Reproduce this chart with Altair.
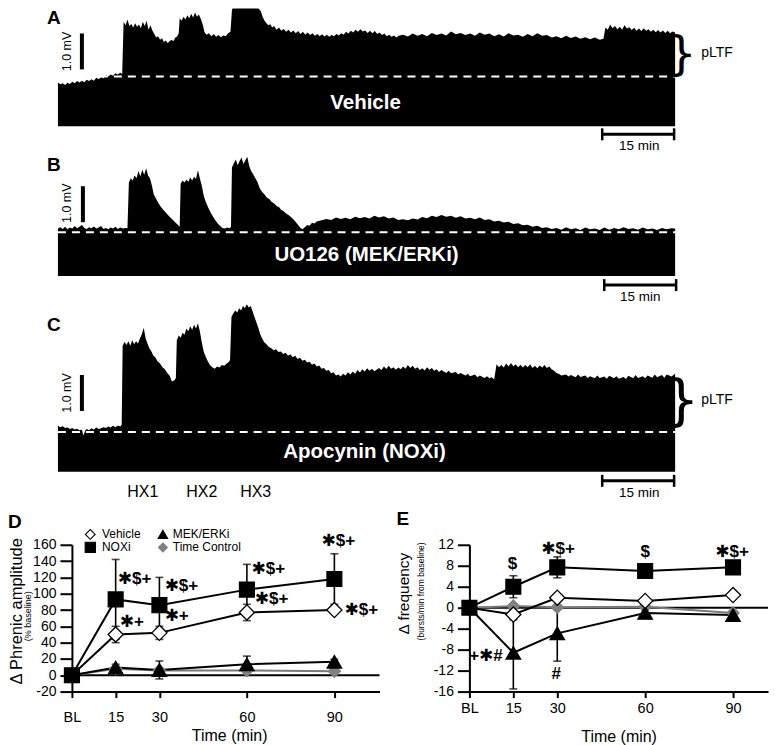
import altair as alt
import pandas as pd

FONT = "Liberation Sans, DejaVu Sans, Arial"

# ---------------- data: integrated phrenic traces ----------------
# (time from start of record in min, amplitude in mV relative to pre-hypoxia baseline)
A_TRACE = [(0, -0.17), (0.5, -0.22), (1, -0.19), (1.5, -0.24), (2, -0.18), (2.5, -0.21), (3, -0.15), (3.5, -0.19),
           (4, -0.13), (4.5, -0.17), (5, -0.12), (5.5, -0.16), (6, -0.09), (6.5, -0.13), (7, -0.08), (7.5, -0.12),
           (8, -0.04), (8.5, -0.08), (9, -0.02), (9.5, -0.05), (10, 0.03), (10.5, 0.0), (11, 0.05), (11.5, 0.02),
           (12, 0.09), (12.5, 0.05), (13, 0.10), (13.4, 0.07),
           (13.7, 1.52), (14.1, 1.42), (14.5, 1.58), (14.9, 1.40), (15.3, 1.46), (15.7, 1.36), (16.1, 1.48),
           (16.5, 1.38), (16.9, 1.44), (17.3, 1.34), (17.7, 1.52), (18.1, 1.40), (18.5, 1.55), (18.9, 1.30),
           (19.3, 1.42), (19.7, 1.28), (20.1, 1.18), (20.5, 1.08), (20.9, 1.12), (21.3, 1.02), (21.7, 1.06),
           (22.1, 0.96), (22.5, 1.00), (22.9, 0.93), (23.3, 0.98), (23.7, 1.02), (24.1, 0.98), (24.5, 1.08),
           (24.9, 1.12), (25.2, 1.20),
           (25.4, 1.62), (25.8, 1.55), (26.2, 1.66), (26.6, 1.58), (27.0, 1.70), (27.4, 1.62), (27.8, 1.74),
           (28.2, 1.64), (28.6, 1.78), (29.0, 1.66), (29.4, 1.72), (29.8, 1.60), (30.2, 1.44), (30.6, 1.22),
           (31.0, 1.16), (31.5, 1.20), (32.0, 1.12), (32.5, 1.18), (33.0, 1.10), (33.5, 1.15), (34.0, 1.09),
           (34.5, 1.14), (35.0, 1.12), (35.5, 1.20), (36.0, 1.24),
           (36.3, 1.85), (36.7, 1.96), (37.1, 1.88), (37.5, 2.00), (37.9, 1.90), (38.3, 2.04), (38.7, 1.94),
           (39.1, 2.05), (39.5, 1.92), (39.9, 2.02), (40.3, 1.95), (40.7, 2.04), (41.1, 1.93), (41.5, 1.98),
           (41.9, 1.88), (42.3, 1.82), (42.7, 1.66), (43.1, 1.55), (43.5, 1.48), (43.9, 1.42), (44.3, 1.45),
           (44.7, 1.36), (45.1, 1.40), (45.6, 1.30), (46.1, 1.36), (46.6, 1.27), (47.1, 1.32), (47.6, 1.24),
           (48.1, 1.30), (48.6, 1.22), (49.1, 1.28), (49.6, 1.20), (50.1, 1.26), (50.6, 1.18), (51.1, 1.24),
           (51.6, 1.16), (52.1, 1.22), (52.6, 1.15), (53.1, 1.20), (53.6, 1.13), (54.1, 1.18), (54.6, 1.12),
           (55.1, 1.17), (55.6, 1.11), (56.1, 1.16), (56.6, 1.10), (57.1, 1.15), (57.6, 1.12), (58.1, 1.18),
           (58.6, 1.14), (59.1, 1.20), (59.6, 1.16), (60.1, 1.24), (60.6, 1.19), (61.1, 1.27), (61.6, 1.22),
           (62.1, 1.30), (62.6, 1.24), (63.1, 1.31), (63.6, 1.25), (64.1, 1.28), (64.6, 1.21), (65.1, 1.27),
           (65.6, 1.20), (66.1, 1.26), (66.6, 1.18), (67.1, 1.22), (67.6, 1.15), (68.1, 1.19), (68.6, 1.12),
           (69.1, 1.16), (69.6, 1.10), (70.1, 1.14), (70.6, 1.08), (71.1, 1.13),
           (72, 1.16), (73, 1.11), (74, 1.19), (75, 1.13), (76, 1.18), (77, 1.12), (78, 1.21), (79, 1.15),
           (80, 1.19), (81, 1.14), (82, 1.25), (83, 1.17), (84, 1.21), (85, 1.15), (86, 1.19), (87, 1.13),
           (88, 1.22), (89, 1.16), (90, 1.19), (91, 1.12), (92, 1.17), (93, 1.11), (94, 1.20), (95, 1.14),
           (96, 1.16), (97, 1.10), (98, 1.18), (99, 1.12), (100, 1.20), (101, 1.13), (102, 1.15), (103, 1.08),
           (104, 1.12), (105, 1.06), (106, 1.13), (107, 1.07), (108, 1.11), (109, 1.05), (110, 1.09), (111, 1.03),
           (112, 1.08), (113, 1.02), (113.8, 1.05),
           (114.2, 1.36), (114.7, 1.30), (115.2, 1.44), (115.7, 1.34), (116.2, 1.40), (116.7, 1.31), (117.2, 1.38),
           (117.7, 1.30), (118.2, 1.42), (118.7, 1.33), (119.2, 1.37), (119.7, 1.29), (120.2, 1.35), (120.7, 1.27),
           (121.2, 1.33), (121.7, 1.26), (122.2, 1.34), (122.7, 1.27), (123.2, 1.31), (123.7, 1.24), (124.2, 1.30),
           (124.7, 1.23), (125.2, 1.29), (125.7, 1.22), (126.2, 1.28), (126.7, 1.21), (127.2, 1.27), (127.7, 1.20),
           (128.2, 1.25), (128.75, 1.22)]

B_TRACE = [(0, 0.10), (0.5, 0.14), (1, 0.09), (1.5, 0.15), (2, 0.08), (2.5, 0.13), (3, 0.10), (3.5, 0.17),
           (4, 0.11), (4.5, 0.15), (5, 0.20), (5.5, 0.12), (6, 0.09), (6.5, 0.14), (7, 0.11), (7.5, 0.16),
           (8, 0.10), (8.5, 0.13), (9, 0.17), (9.5, 0.09), (10, 0.12), (10.5, 0.08), (11, 0.13), (11.5, 0.10),
           (12, 0.15), (12.5, 0.09), (13, 0.13), (13.5, 0.10), (14, 0.12), (14.5, 0.11),
           (14.8, 1.38), (15.2, 1.50), (15.6, 1.44), (16.0, 1.58), (16.4, 1.50), (16.8, 1.70), (17.2, 1.55),
           (17.6, 1.74), (18.0, 1.60), (18.4, 1.78), (18.8, 1.58), (19.2, 1.50), (19.6, 1.30), (20.0, 1.05),
           (20.5, 0.92), (21.0, 0.80), (21.5, 0.70), (22.0, 0.62), (22.5, 0.55), (23.0, 0.47), (23.5, 0.40),
           (24.0, 0.34), (24.5, 0.27), (25.0, 0.21), (25.4, 0.15),
           (25.6, 1.35), (26.0, 1.44), (26.4, 1.38), (26.8, 1.46), (27.2, 1.40), (27.6, 1.52), (28.0, 1.44),
           (28.4, 1.54), (28.8, 1.48), (29.2, 1.72), (29.6, 1.50), (30.0, 1.30), (30.4, 1.02), (30.8, 0.86),
           (31.3, 0.70), (31.8, 0.56), (32.3, 0.44), (32.8, 0.34), (33.3, 0.25), (33.8, 0.18), (34.3, 0.12),
           (34.8, 0.10), (35.3, 0.13), (35.8, 0.11), (36.1, 0.15),
           (36.3, 1.80), (36.7, 1.92), (37.1, 2.02), (37.5, 1.86), (37.9, 1.98), (38.3, 2.08), (38.7, 1.90),
           (39.1, 2.00), (39.5, 2.10), (39.9, 1.84), (40.3, 1.70), (40.7, 1.62), (41.1, 1.52), (41.6, 1.40),
           (42.1, 1.22), (42.6, 1.12), (43.1, 1.05), (43.6, 0.96), (44.1, 0.92), (44.6, 0.84), (45.1, 0.80),
           (45.6, 0.73), (46.1, 0.70), (46.6, 0.62), (47.1, 0.58), (47.6, 0.52), (48.1, 0.48), (48.6, 0.42),
           (49.1, 0.36), (49.6, 0.28), (50.1, 0.20), (50.6, 0.12), (51.0, 0.08),
           (51.5, 0.14), (52, 0.20), (52.5, 0.18), (53, 0.26), (53.5, 0.24), (54, 0.30), (55, 0.33), (56, 0.37),
           (57, 0.34), (58, 0.41), (59, 0.37), (60, 0.40), (61, 0.36), (62, 0.43), (63, 0.39), (64, 0.42),
           (65, 0.38), (66, 0.46), (67, 0.41), (68, 0.44), (69, 0.38), (70, 0.41), (71, 0.34), (72, 0.36),
           (73, 0.33), (74, 0.38), (75, 0.35), (76, 0.42), (77, 0.39), (78, 0.46), (79, 0.42), (80, 0.48),
           (81, 0.43), (82, 0.46), (83, 0.40), (84, 0.44), (85, 0.38), (86, 0.40), (87, 0.36), (88, 0.41),
           (89, 0.34), (90, 0.36), (91, 0.30), (92, 0.32), (93, 0.27), (94, 0.29), (95, 0.23), (96, 0.25),
           (97, 0.19), (98, 0.21), (99, 0.15), (100, 0.18), (101, 0.12), (102, 0.14), (103, 0.09), (104, 0.12),
           (105, 0.07), (106, 0.14), (107, 0.08), (108, 0.11), (109, 0.06), (110, 0.13), (111, 0.08), (112, 0.10),
           (113, 0.06), (114, 0.13), (115, 0.07), (116, 0.12), (117, 0.08), (118, 0.14), (119, 0.09), (120, 0.11),
           (121, 0.07), (122, 0.13), (123, 0.08), (124, 0.10), (125, 0.06), (126, 0.12), (127, 0.08), (128, 0.11),
           (128.75, 0.10)]

C_TRACE = [(0, 0.17), (0.5, 0.13), (1, 0.16), (1.5, 0.11), (2, 0.12), (2.5, 0.08), (3, 0.11), (3.5, 0.07),
           (4, 0.09), (4.5, 0.05), (5, 0.06), (5.3, -0.10), (5.7, 0.04), (6, 0.08), (6.5, 0.05), (7, 0.10),
           (7.5, 0.07), (8, 0.12), (8.5, 0.08), (9, 0.10), (9.5, 0.13), (10, 0.11), (10.5, 0.15), (11, 0.12),
           (11.5, 0.17), (12, 0.13), (12.5, 0.18), (13, 0.15), (13.3, 0.20),
           (13.5, 2.40), (13.9, 2.50), (14.3, 2.42), (14.7, 2.52), (15.1, 2.40), (15.5, 2.55), (15.9, 2.44),
           (16.3, 2.52), (16.7, 2.46), (17.1, 2.60), (17.5, 2.72), (17.9, 2.90), (18.3, 2.60), (18.7, 2.45),
           (19.1, 2.32), (19.5, 2.24), (19.9, 2.12), (20.3, 2.08), (20.8, 1.96), (21.3, 1.90), (21.8, 1.80),
           (22.3, 1.74), (22.8, 1.64), (23.3, 1.56), (23.8, 1.40), (24.3, 1.44), (24.6, 1.50),
           (24.8, 2.55), (25.2, 2.68), (25.6, 2.62), (26.0, 2.76), (26.4, 2.70), (26.8, 2.88), (27.2, 2.80),
           (27.6, 2.94), (28.0, 2.84), (28.4, 2.98), (28.8, 2.88), (29.2, 3.02), (29.6, 2.80), (30.0, 2.50),
           (30.4, 2.24), (30.8, 2.10), (31.2, 1.98), (31.7, 1.86), (32.2, 1.80), (32.7, 1.76), (33.2, 1.82),
           (33.7, 1.79), (34.2, 1.86), (34.7, 1.84), (35.2, 1.90), (35.6, 1.94), (35.9, 2.00),
           (36.2, 3.20), (36.6, 3.30), (37.0, 3.38), (37.4, 3.32), (37.8, 3.44), (38.2, 3.38), (38.6, 3.50),
           (39.0, 3.44), (39.4, 3.55), (39.8, 3.46), (40.2, 3.50), (40.6, 3.36), (41.0, 3.20), (41.4, 3.05),
           (41.8, 2.90), (42.2, 2.72), (42.6, 2.60), (43.0, 2.50), (43.5, 2.44), (44.0, 2.36), (44.5, 2.33),
           (45.0, 2.27), (45.5, 2.30), (46.0, 2.22), (46.5, 2.24), (47.0, 2.17), (47.5, 2.20), (48.0, 2.12),
           (48.5, 2.16), (49.0, 2.08), (49.5, 2.12), (50.0, 2.03), (50.5, 2.06), (51.0, 1.98), (51.5, 2.01),
           (52.0, 1.93), (52.5, 1.95), (53.0, 1.87), (53.5, 1.90), (54.0, 1.82), (54.5, 1.85), (55.0, 1.76),
           (55.5, 1.78), (56.0, 1.70), (56.5, 1.72), (57.0, 1.63), (57.5, 1.66), (58.0, 1.57), (58.5, 1.60),
           (59.0, 1.54), (59.5, 1.62), (60.0, 1.57), (60.5, 1.66), (61.0, 1.60), (61.5, 1.68), (62.0, 1.62),
           (62.5, 1.72), (63.0, 1.65), (63.5, 1.74), (64.0, 1.68), (64.5, 1.77), (65.0, 1.70), (65.5, 1.76),
           (66.0, 1.69), (67, 1.78), (67.5, 1.72), (68, 1.82), (68.5, 1.75), (69, 1.84), (69.5, 1.76), (70, 1.80),
           (70.5, 1.73), (71, 1.79), (71.5, 1.74), (72, 1.82), (72.5, 1.76), (73, 1.86), (73.5, 1.78), (74, 1.84),
           (74.5, 1.76), (75, 1.80), (75.5, 1.72), (76, 1.77), (76.5, 1.71), (77, 1.80), (77.5, 1.73), (78, 1.78),
           (78.5, 1.70), (79, 1.74), (79.5, 1.67), (80, 1.72), (81, 1.64), (81.5, 1.70), (82, 1.63), (83, 1.67),
           (83.5, 1.60), (84, 1.64), (85, 1.57), (85.5, 1.62), (86, 1.55), (87, 1.60), (87.5, 1.52), (88, 1.57),
           (89, 1.50), (89.5, 1.55), (90, 1.49), (90.5, 1.52), (91, 1.46),
           (91.5, 1.88), (92, 1.80), (92.5, 1.86), (93, 1.79), (93.5, 1.90), (94, 1.82), (94.5, 1.92), (95, 1.83),
           (95.5, 1.88), (96, 1.80), (96.5, 1.87), (97, 1.79), (97.5, 1.86), (98, 1.80), (98.5, 1.88), (99, 1.78),
           (99.5, 1.84), (100, 1.77), (100.5, 1.85), (101, 1.79), (101.5, 1.86), (102, 1.78), (102.5, 1.82),
           (103, 1.74), (103.5, 1.70), (104, 1.64), (104.5, 1.62), (105, 1.57), (106, 1.60), (106.5, 1.54),
           (107, 1.58), (108, 1.52), (108.5, 1.60), (109, 1.53), (110, 1.57), (110.5, 1.50), (111, 1.55),
           (112, 1.49), (112.5, 1.57), (113, 1.50), (114, 1.54), (114.5, 1.48), (115, 1.56), (116, 1.49),
           (116.5, 1.55), (117, 1.48), (118, 1.53), (118.5, 1.47), (119, 1.56), (120, 1.49), (120.5, 1.58),
           (121, 1.50), (122, 1.55), (122.5, 1.49), (123, 1.57), (124, 1.51), (124.5, 1.60), (125, 1.52),
           (126, 1.58), (126.5, 1.51), (127, 1.60), (128, 1.54), (128.75, 1.62)]

TRACE_FLOOR = {"A": -1.39, "B": -1.22, "C": -1.11}
TRACE_END = 128.75
DRUG_LABELS = ["Vehicle", "UO126 (MEK/ERKi)", "Apocynin (NOXi)"]
HX_LABELS = ["HX1", "HX2", "HX3"]
HX_TIMES = [17.7, 30.0, 41.25]

# ---------------- data: group summaries ----------------
TIMES = [0, 15, 30, 60, 90]
TIME_TICKS = ["BL", "15", "30", "60", "90"]
SERIES = ["Time Control", "MEK/ERKi", "Vehicle", "NOXi"]

AMP_MEAN = {"Vehicle": [0, 50, 52, 77, 80],
            "NOXi": [0, 93, 86, 105, 118],
            "MEK/ERKi": [0, 9.5, 6.5, 13.5, 16.5],
            "Time Control": [0, 8, 6, 6, 5]}
AMP_SEM = {"Vehicle": [0, 10, 8, 10, 3],
           "NOXi": [0, 49, 34, 31, 31],
           "MEK/ERKi": [0, 4, 11, 10, 3],
           "Time Control": [0, 2, 2, 2, 2]}

FREQ_MEAN = {"Vehicle": [0, -1.3, 1.9, 1.3, 2.4],
             "NOXi": [0, 4.0, 7.7, 7.0, 7.7],
             "MEK/ERKi": [0, -8.6, -4.9, -1.0, -1.4],
             "Time Control": [0, 0.3, 0.1, 0.2, -1.0]}
FREQ_SEM = {"Vehicle": [0, 1.0, 0.5, 0.5, 0.3],
            "NOXi": [0, 2.1, 2.0, 1.0, 0.6],
            "MEK/ERKi": [0, 6.9, 5.3, 0.6, 0.5],
            "Time Control": [0, 0.4, 0.4, 0.4, 0.4]}

AMP_SIG = [(15.75, 117.6, "✱$+"), (16.4, 64.9, "✱+"), (31.8, 109.0, "✱$+"), (31.8, 72.3, "✱+"),
           (61.6, 129.8, "✱$+"), (62.7, 93.1, "✱$+"), (85.6, 164.1, "✱$+"), (93.5, 79.6, "✱$+")]
FREQ_SIG = [(14.7, 8.3, "$", "center"), (30.3, 11.2, "✱$+", "center"), (60.0, 10.6, "$", "center"),
            (89.7, 10.6, "✱$+", "center"), (11.4, -9.15, "+✱#", "right"), (29.65, -12.6, "#", "center")]

# ---------------- layout ----------------
TOTAL_W = 761
TRACE_XDOM = [(8 - 58) / 4.8, (769 - 58) / 4.8]
D_W, E_W = 308, 299
D_XMAX, E_XMAX = D_W / 2.92, E_W / 2.933
ROW_H = {"A": 144, "B": 148, "C": 245, "DE": 147}
YDOM = {"A": [-76 / 36, 68 / 36], "B": [-68 / 36, 80 / 36], "C": [-113 / 36, 132 / 36]}

STYLE = {
    "Time Control": dict(line="#7a7a7a", shape="diamond", fill="#808080", stroke="#808080", size=150, lsize=80),
    "MEK/ERKi": dict(line="black", shape="triangle-up", fill="black", stroke="black", size=210, lsize=90),
    "Vehicle": dict(line="black", shape="diamond", fill="white", stroke="black", size=230, lsize=95),
    "NOXi": dict(line="black", shape="square", fill="black", stroke="black", size=220, lsize=105),
}


def text_layer(t, v, s, xs, ys, xa=None, ya=None, **kw):
    df = pd.DataFrame({"t": [t], "v": [v], "s": [s]})
    kw.setdefault("font", FONT)
    kw.setdefault("color", "black")
    return alt.Chart(df).mark_text(**kw).encode(
        x=alt.X("t:Q", scale=xs, axis=xa), y=alt.Y("v:Q", scale=ys, axis=ya), text="s:N")


def trace_panel(key, trace, drug, lay):
    xs = alt.Scale(domain=TRACE_XDOM, nice=False, zero=False)
    ys = alt.Scale(domain=YDOM[key], nice=False, zero=False)
    df = pd.DataFrame(trace, columns=["t", "v"])
    df["f"] = TRACE_FLOOR[key]
    layers = [alt.Chart(df).mark_area(color="black", orient="vertical", interpolate="linear", clip=True).encode(
        x=alt.X("t:Q", scale=xs, axis=None), y=alt.Y("v:Q", scale=ys, axis=None), y2="f:Q")]
    dash = pd.DataFrame({"t1": [0.0], "t2": [TRACE_END], "v": [0.0]})
    layers.append(alt.Chart(dash).mark_rule(color="white", strokeWidth=2, strokeDash=[8, 6]).encode(
        x=alt.X("t1:Q", scale=xs, axis=None), x2="t2:Q", y=alt.Y("v:Q", scale=ys, axis=None)))
    rules = pd.DataFrame(lay["rules"], columns=["t1", "t2", "v1", "v2", "w"])
    layers.append(alt.Chart(rules).mark_rule(color="black").encode(
        x=alt.X("t1:Q", scale=xs, axis=None), x2="t2:Q",
        y=alt.Y("v1:Q", scale=ys, axis=None), y2="v2:Q",
        strokeWidth=alt.StrokeWidth("w:Q", scale=None, legend=None)))
    layers.append(text_layer(lay["label"][0], lay["label"][1], key, xs, ys, fontSize=19,
                             fontWeight="bold", align="left"))
    layers.append(text_layer(lay["mv"][0], lay["mv"][1], "1.0 mV", xs, ys, fontSize=12.5, angle=270))
    layers.append(text_layer(lay["drug"][0], lay["drug"][1], drug, xs, ys, fontSize=20.5,
                             fontWeight="bold", color="white"))
    layers.append(text_layer(lay["min"][0], lay["min"][1], "15 min", xs, ys, fontSize=13.5))
    if "brace" in lay:
        b = lay["brace"]
        layers.append(text_layer(b[0], b[1], "}", xs, ys, fontSize=b[2], font="DejaVu Sans"))
        layers.append(text_layer(lay["pltf"][0], lay["pltf"][1], "pLTF", xs, ys, fontSize=14, align="left"))
    if "hx" in lay:
        for t, s in zip(HX_TIMES, HX_LABELS):
            layers.append(text_layer(t, lay["hx"], s, xs, ys, fontSize=16))
    return alt.layer(*layers).properties(width=TOTAL_W, height=ROW_H[key])


def scale_rules(bar_t, bar_v, t0, t1, v, cap):
    return [(bar_t, bar_t, bar_v[0], bar_v[1], 4),
            (t0, t1, v, v, 3),
            (t0, t0, v + cap, v - cap, 2.5),
            (t1, t1, v + cap, v - cap, 2.5)]


LAY_A = dict(rules=scale_rules(5.0, (0.194, 1.194), 113.54, 128.54, -1.611, 0.167),
             label=(-2.29, 1.625), mv=(1.875, 0.694), drug=(64.17, -0.75), min=(121.25, -1.944),
             brace=(130.1, 0.60, 47), pltf=(134.2, 0.64))
LAY_B = dict(rules=scale_rules(5.21, (0.278, 1.278), 113.96, 128.96, -1.472, 0.167),
             label=(-2.29, 1.861), mv=(1.875, 0.806), drug=(64.375, -0.639), min=(121.46, -1.806))
LAY_C = dict(rules=scale_rules(5.0, (0.583, 1.583), 113.54, 128.54, -1.361, 0.167),
             label=(-2.29, 2.972), mv=(1.875, 1.083), drug=(63.96, -0.556), min=(121.25, -1.694),
             brace=(130.1, 0.83, 56), pltf=(134.2, 0.89), hx=-1.667)

trace_a = trace_panel("A", A_TRACE, DRUG_LABELS[0], LAY_A)
trace_b = trace_panel("B", B_TRACE, DRUG_LABELS[1], LAY_B)
trace_c = trace_panel("C", C_TRACE, DRUG_LABELS[2], LAY_C)


def stat_panel(means, sems, xmax, ydom, yticks, width, xlabpad, sig, extra_texts, legend=None):
    xs = alt.Scale(domain=[0, xmax], nice=False, zero=False)
    ys = alt.Scale(domain=ydom, nice=False, zero=False)
    label_map = " : ".join(f"datum.value == {t} ? '{s}'" for t, s in zip(TIMES, TIME_TICKS)) + " : ''"
    xa = alt.Axis(values=TIMES, labelExpr=label_map, title=None, grid=False, domainColor="black",
                  domainWidth=2, tickColor="black", tickWidth=2, tickSize=6, labelFont=FONT,
                  labelFontSize=14.5, labelColor="black", labelPadding=xlabpad, labelFlush=False,
                  labelOverlap=False)
    ya = alt.Axis(values=yticks, labelExpr="'' + datum.value", title=None, grid=False,
                  domainColor="black", domainWidth=2, tickColor="black", tickWidth=2, tickSize=12,
                  labelFont=FONT, labelFontSize=14, labelColor="black", labelPadding=4,
                  labelFlush=False, labelOverlap=False)

    def XY(yf="v"):
        return dict(x=alt.X("t:Q", scale=xs, axis=xa), y=alt.Y(f"{yf}:Q", scale=ys, axis=ya))

    zero = pd.DataFrame({"t": [0.0], "t2": [xmax], "v": [0.0]})
    layers = [alt.Chart(zero).mark_rule(color="black", strokeWidth=2).encode(**XY(), x2="t2:Q")]

    frames = {}
    for s in SERIES:
        df = pd.DataFrame({"t": TIMES, "v": means[s], "e": sems[s]})
        df["lo"] = df["v"] - df["e"]
        df["hi"] = df["v"] + df["e"]
        frames[s] = df
    for s in SERIES:
        st = STYLE[s]
        layers.append(alt.Chart(frames[s]).mark_line(color=st["line"], strokeWidth=2).encode(**XY()))
    for s in SERIES:
        st = STYLE[s]
        df = frames[s][frames[s]["e"] > 0]
        layers.append(alt.Chart(df).mark_rule(color=st["line"], strokeWidth=1.6).encode(
            **XY("lo"), y2="hi:Q"))
        caps = pd.concat([df[["t", "lo"]].rename(columns={"lo": "c"}),
                          df[["t", "hi"]].rename(columns={"hi": "c"})])
        layers.append(alt.Chart(caps).mark_tick(color=st["line"], orient="horizontal", size=8,
                                                thickness=1.6).encode(**XY("c")))
    for s in SERIES:
        st = STYLE[s]
        layers.append(alt.Chart(frames[s]).mark_point(
            shape=st["shape"], filled=True, fill=st["fill"], stroke=st["stroke"], strokeWidth=1.3,
            size=st["size"], opacity=1).encode(**XY()))
    if legend:
        for s, (tm, tt, v) in legend.items():
            st = STYLE[s]
            ldf = pd.DataFrame({"t": [tm], "v": [v]})
            layers.append(alt.Chart(ldf).mark_point(
                shape=st["shape"], filled=True, fill=st["fill"], stroke=st["stroke"], strokeWidth=1.1,
                size=st["lsize"], opacity=1).encode(**XY()))
            layers.append(text_layer(tt, v, s, xs, ys, xa, ya, fontSize=12, align="left"))
    for item in sig:
        t, v, s = item[0], item[1], item[2]
        align = item[3] if len(item) > 3 else "left"
        layers.append(text_layer(t, v, s, xs, ys, xa, ya, fontSize=17, fontWeight="bold", align=align))
    for t, v, s, kw in extra_texts:
        layers.append(text_layer(t, v, s, xs, ys, xa, ya, **kw))
    return alt.layer(*layers).properties(width=width, height=ROW_H["DE"])


AMP_LEGEND = {"Vehicle": (6.3, 10.3, 172.7), "NOXi": (6.3, 10.3, 156.8),
              "MEK/ERKi": (31.2, 34.6, 172.7), "Time Control": (31.2, 34.6, 156.8)}

panel_d = stat_panel(
    AMP_MEAN, AMP_SEM, D_XMAX, [-20, 160], list(range(-20, 161, 20)), D_W, 13, AMP_SIG,
    [(-21.9, 188.0, "D", dict(fontSize=19, fontWeight="bold", align="left")),
     (-19.0, 78.4, "Δ Phrenic amplitude", dict(fontSize=16.5, angle=270)),
     (-15.2, 72.3, "(% baseline)", dict(fontSize=9, angle=270)),
     (54.1, -74.1, "Time (min)", dict(fontSize=16))],
    legend=AMP_LEGEND)

panel_e = stat_panel(
    FREQ_MEAN, FREQ_SEM, E_XMAX, [-16, 12], list(range(-16, 13, 4)), E_W, 4, FREQ_SIG,
    [(-24.9, 16.9, "E", dict(fontSize=19, fontWeight="bold", align="left")),
     (-22.2, 2.7, "Δ frequency", dict(fontSize=15.5, angle=270)),
     (-16.4, 3.1, "(bursts/min from baseline)", dict(fontSize=8.5, angle=270)),
     (51.1, -24.6, "Time (min)", dict(fontSize=16))])


def spacer(w):
    return alt.Chart(pd.DataFrame({"z": [0]})).mark_point(opacity=0).encode(
        x=alt.X("z:Q", axis=None), y=alt.Y("z:Q", axis=None)).properties(width=w, height=ROW_H["DE"])


bottom = alt.hconcat(spacer(64), panel_d, spacer(90), panel_e, spacing=0, bounds="flush")
chart = alt.vconcat(trace_a, trace_b, trace_c, bottom, spacing=0, bounds="flush").properties(
    padding={"left": 0, "top": 0, "right": 0, "bottom": 0},
    autosize=alt.AutoSizeParams(type="pad"),
    background="white",
).configure_view(strokeWidth=0)

chart.save("out.html", embed_options={"renderer": "svg", "actions": False})
